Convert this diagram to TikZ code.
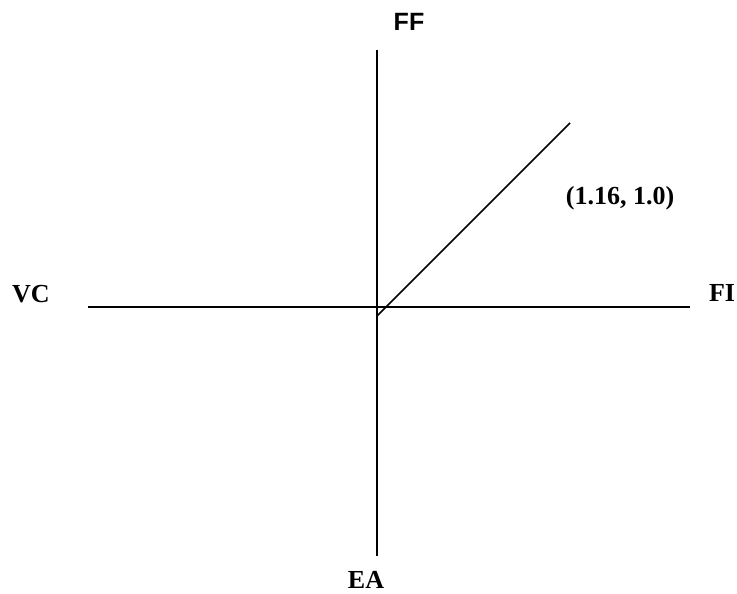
\documentclass[tikz,border=0pt]{standalone}
\usepackage{fontspec}
\setmainfont{Liberation Serif}
\newfontfamily\axsans{Liberation Sans}
\begin{document}
\begin{tikzpicture}[x=1pt,y=-1pt,
  axis/.style={line width=1.5pt,line cap=butt},
  lab/.style={font=\fontsize{26}{30}\selectfont\bfseries,inner sep=0pt,anchor=center},
  slab/.style={font=\axsans\fontsize{25}{30}\selectfont\bfseries,inner sep=0pt,anchor=center}]
\useasboundingbox (0,0) rectangle (737,594);
\coordinate (top) at (377,50);
\coordinate (bot) at (377,556);
\coordinate (left) at (88,307);
\coordinate (right) at (690,307);
\coordinate (dstart) at (377,316);
\coordinate (dend) at (570,123);
\draw[axis] (top) -- (bot);
\draw[axis] (left) -- (right);
\draw[axis] (dstart) -- (dend);
\node[slab] (ff) at (409,22) {FF};
\node[lab] (vc) at (31,294) {VC};
\node[lab] (fi) at (722,293) {FI};
\node[lab,text depth=0pt] (ea) at (366,580) {EA};
\node[lab] (pt) at (620,198) {(1.16, 1.0)};
\end{tikzpicture}
\end{document}
